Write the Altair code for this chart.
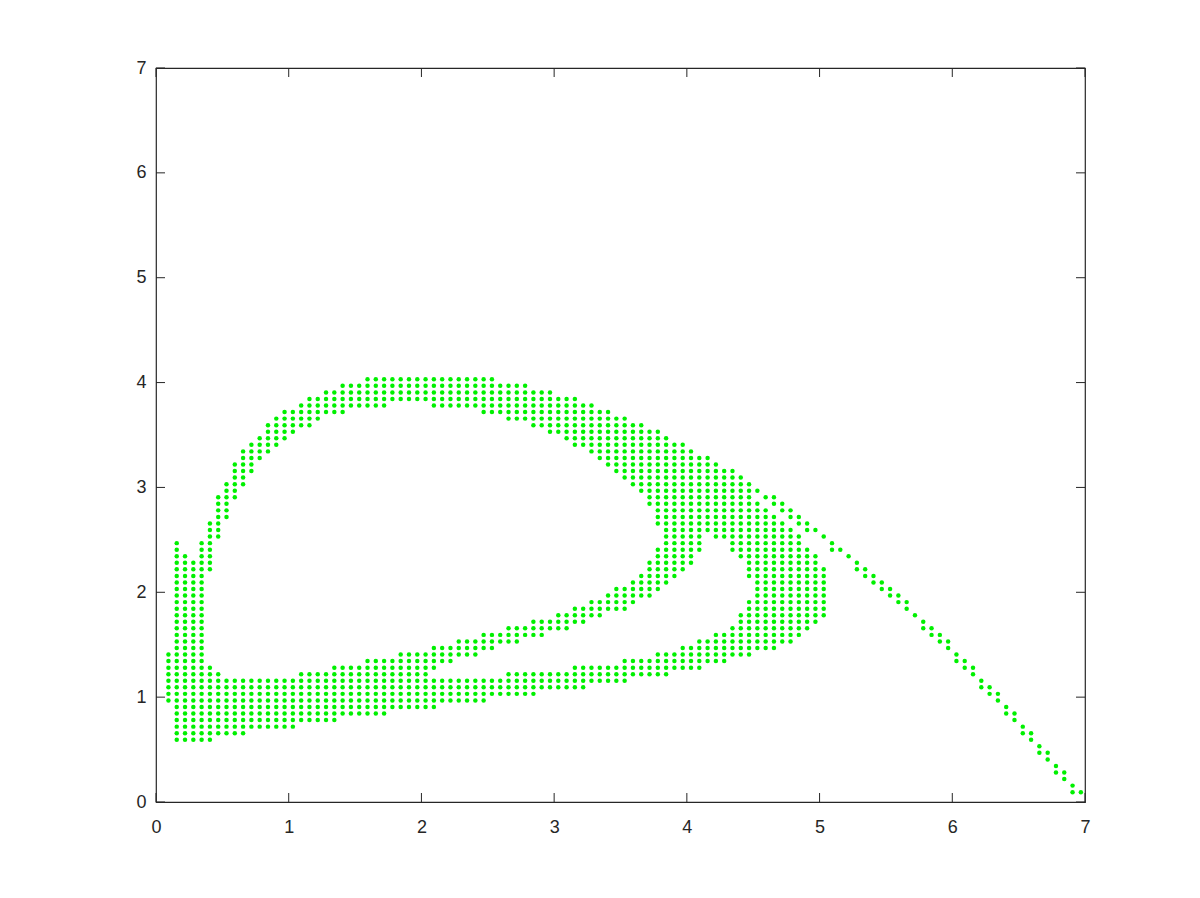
import altair as alt
import pandas as pd

# Grid spacing of the sampled points (cell centres at (k + 0.5) * STEP)
STEP = 0.0625

# Left vertical bar, columns 1..5 (grid row ranges)
bar_start = 1
bar_lo = [15, 9, 9, 9, 9]
bar_hi = [22, 39, 37, 36, 39]

# Lower band + right loop body, columns 6..80
band_start = 6
band_lo = [9, 10, 10, 10, 10, 11, 11, 11, 11, 11, 11, 12, 12, 12, 12,
           12, 13, 13, 13, 13, 13, 13, 14, 14, 14, 14, 14, 14, 15, 15,
           15, 15, 15, 15, 16, 16, 16, 16, 16, 16, 17, 17, 17, 17, 17,
           17, 18, 18, 18, 18, 18, 19, 19, 19, 19, 19, 20, 20, 20, 20,
           21, 21, 21, 22, 22, 22, 23, 23, 23, 24, 24, 25, 26, 27, 28]
band_hi = [20, 19, 18, 18, 18, 18, 18, 18, 18, 18, 18, 19, 19, 19, 19,
           20, 20, 20, 20, 21, 21, 21, 21, 22, 22, 22, 22, 18, 18, 18,
           18, 18, 18, 18, 18, 18, 19, 19, 19, 19, 19, 19, 19, 19, 20,
           20, 20, 20, 20, 20, 21, 21, 21, 21, 22, 22, 22, 23, 23, 24,
           24, 25, 25, 26, 28, 30, 45, 44, 43, 42, 41, 40, 38, 37, 35]

# Inner diagonal band, columns 33..60
diag_start = 33
diag_lo = [20, 21, 21, 22, 22, 22, 23, 23, 24, 24, 24, 25, 25, 25,
           26, 26, 26, 27, 27, 28, 28, 29, 29, 29, 30, 31, 31, 32]
diag_hi = [23, 23, 23, 24, 24, 24, 25, 25, 25, 26, 26, 26, 27, 27,
           27, 28, 28, 29, 29, 30, 30, 31, 32, 32, 33, 34, 36, 38]

# Upper arc, columns 6..71
arc_start = 6
arc_lo = [35, 40, 43, 46, 48, 50, 52, 53, 54, 55, 56, 57, 57, 58, 59,
          59, 59, 60, 60, 60, 60, 60, 61, 61, 61, 61, 61, 60, 60, 60,
          60, 60, 60, 59, 59, 59, 58, 58, 58, 57, 57, 56, 56, 55, 54,
          54, 53, 52, 51, 50, 49, 48, 47, 45, 42, 33, 34, 35, 36, 38,
          41, 40, 40, 38, 37, 34]
arc_hi = [42, 46, 48, 51, 53, 54, 55, 57, 58, 59, 59, 60, 61, 61, 62,
          62, 63, 63, 63, 64, 64, 64, 64, 64, 64, 64, 64, 64, 64, 64,
          64, 64, 64, 64, 64, 63, 63, 63, 63, 62, 62, 62, 61, 61, 61,
          60, 60, 59, 59, 58, 58, 57, 57, 56, 56, 55, 54, 54, 53, 52,
          52, 51, 50, 50, 49, 48]

# Descending trail, columns 72..111
trail_start = 72
trail_lo = [47, 46, 45, 44, 43, 42, 41, 41, 40, 38, 38, 37, 35, 34, 33,
            32, 31, 30, 29, 28, 26, 25, 24, 23, 21, 20, 19, 17, 16, 15,
            13, 12, 10, 9, 7, 6, 4, 3, 1, 1]
trail_hi = [47, 46, 46, 45, 44, 43, 42, 41, 40, 39, 38, 37, 36, 35, 34,
            33, 32, 31, 30, 28, 27, 26, 25, 24, 22, 21, 20, 18, 17, 16,
            14, 13, 11, 10, 8, 7, 5, 4, 2, 1]

x_ticks = [0, 1, 2, 3, 4, 5, 6, 7]
y_ticks = [0, 1, 2, 3, 4, 5, 6, 7]

parts = [
    (bar_start, bar_lo, bar_hi),
    (band_start, band_lo, band_hi),
    (diag_start, diag_lo, diag_hi),
    (arc_start, arc_lo, arc_hi),
    (trail_start, trail_lo, trail_hi),
]
rows = []
for start, los, his in parts:
    assert len(los) == len(his), (start, len(los), len(his))
    for k, (a, b) in enumerate(zip(los, his)):
        col = start + k
        for j in range(a, b + 1):
            rows.append({"x": (col + 0.5) * STEP, "y": (j + 0.5) * STEP})
df = pd.DataFrame(rows)

W, H = 929, 734
TICK = 9
AX = "#262626"
FONT = "Liberation Sans"
FS = 18

xs = alt.Scale(domain=[0, 7], nice=False, zero=False)
ys = alt.Scale(domain=[0, 7], nice=False, zero=False)
ax_x = alt.Axis(values=x_ticks, ticks=False, domain=False, grid=False, title=None,
                labelFont=FONT, labelFontSize=FS, labelColor=AX, labelPadding=16,
                labelAngle=0, labelFlush=False, format="d")
ax_y = alt.Axis(values=y_ticks, ticks=False, domain=False, grid=False, title=None,
                labelFont=FONT, labelFontSize=FS, labelColor=AX, labelPadding=10,
                labelFlush=False, format="d")

points = alt.Chart(df).mark_circle(size=20, color="#00f000", opacity=1).encode(
    x=alt.X("x:Q", scale=xs, axis=ax_x),
    y=alt.Y("y:Q", scale=ys, axis=ax_y),
)

xt = pd.DataFrame({"x": x_ticks})
yt = pd.DataFrame({"y": y_ticks})
tick_b = alt.Chart(xt).mark_rule(color=AX, strokeWidth=1).encode(
    x=alt.X("x:Q", scale=xs, axis=ax_x), y=alt.value(H), y2=alt.value(H - TICK))
tick_t = alt.Chart(xt).mark_rule(color=AX, strokeWidth=1).encode(
    x=alt.X("x:Q", scale=xs, axis=ax_x), y=alt.value(0), y2=alt.value(TICK))
tick_l = alt.Chart(yt).mark_rule(color=AX, strokeWidth=1).encode(
    y=alt.Y("y:Q", scale=ys, axis=ax_y), x=alt.value(0), x2=alt.value(TICK))
tick_r = alt.Chart(yt).mark_rule(color=AX, strokeWidth=1).encode(
    y=alt.Y("y:Q", scale=ys, axis=ax_y), x=alt.value(W), x2=alt.value(W - TICK))

chart = alt.layer(points, tick_b, tick_t, tick_l, tick_r).properties(
    width=W, height=H,
    autosize=alt.AutoSizeParams(type="none"),
    padding={"left": 148, "top": 60, "right": 100, "bottom": 80},
    background="white",
).configure_view(stroke=AX, strokeWidth=1.2)

chart.save("out.html", embed_options={"renderer": "svg", "actions": False})
